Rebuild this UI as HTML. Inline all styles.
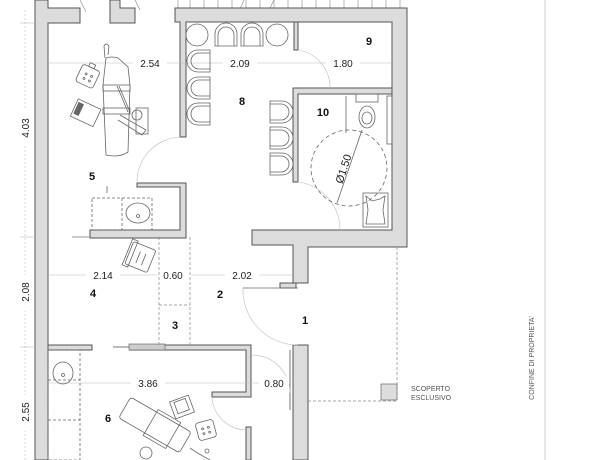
<!DOCTYPE html>
<html><head><style>
html,body{margin:0;padding:0;background:#fff;}
svg{display:block;}
text{font-family:"Liberation Sans",sans-serif;}
.w{fill:#dcdcdc;stroke:#555;stroke-width:1;}
.t{fill:none;stroke:#666;stroke-width:0.8;}
.d{stroke:#bbb;stroke-width:0.6;fill:none;}
.ds{stroke:#888;stroke-width:0.7;fill:none;stroke-dasharray:3,2;}
.dim{font-size:10px;fill:#222;}
.lb{font-size:11px;font-weight:bold;fill:#111;}
</style></head><body>
<svg width="600" height="460" viewBox="0 0 600 460">
<!-- top stair ticks -->
<g stroke="#888" stroke-width="0.6">
<line x1="175" y1="8" x2="407" y2="8"/>
<line x1="178" y1="0" x2="178" y2="8"/>
<g id="ticks">
<line x1="190" y1="0" x2="190" y2="8"/><line x1="204" y1="0" x2="204" y2="8"/><line x1="218" y1="0" x2="218" y2="8"/><line x1="232" y1="0" x2="232" y2="8"/><line x1="246" y1="0" x2="246" y2="8"/><line x1="260" y1="0" x2="260" y2="8"/><line x1="274" y1="0" x2="274" y2="8"/><line x1="288" y1="0" x2="288" y2="8"/><line x1="302" y1="0" x2="302" y2="8"/><line x1="316" y1="0" x2="316" y2="8"/><line x1="330" y1="0" x2="330" y2="8"/><line x1="344" y1="0" x2="344" y2="8"/><line x1="358" y1="0" x2="358" y2="8"/><line x1="372" y1="0" x2="372" y2="8"/><line x1="386" y1="0" x2="386" y2="8"/><line x1="400" y1="0" x2="400" y2="8"/>
</g>
<line x1="236" y1="18" x2="244" y2="0"/><line x1="270" y1="8" x2="274" y2="0"/>
<line x1="80" y1="0" x2="86" y2="12"/><line x1="135" y1="0" x2="140" y2="10"/>
</g>
<!-- walls -->
<path class="w" d="M35 0 H48 V8 H80 V23 H48 V460 H35 Z"/>
<path class="w" d="M110 0 H120 V8 H135 V23 H110 Z"/>
<path class="w" d="M175 8 H407 V247 H308 V283 H293 V245 H252 V230 H392 V22 H186 V137 H180 V22 H175 Z"/>
<path class="w" d="M294 22 H298 V50 H294 Z"/>
<path class="w" d="M294 88 H392 V94 H298 V182 H293 V88 Z"/>
<path class="w" d="M137 183 H186 V238 H90 V230 H180 V187 H137 Z"/>
<path class="w" d="M48 345 H92 V350 H48 Z"/>
<path class="w" d="M130 345 H251 V397 H212 V392 H246 V350 H130 Z"/>
<path class="w" d="M246 427 H251 V460 H246 Z"/>
<path class="w" d="M293 345 H308 V460 H293 Z"/>
<rect class="w" x="280" y="283" width="16" height="5"/>
<line x1="113" y1="347" x2="130" y2="347" stroke="#777"/>
<rect x="129" y="344" width="36" height="6" fill="#ccc" stroke="#555" stroke-width="0.6"/>
<line x1="290" y1="350" x2="290" y2="410" stroke="#777" stroke-width="1"/>
<!-- doors -->
<path class="d" d="M137 183 A45 45 0 0 1 180 137"/>
<path class="d" d="M298 50 A38 38 0 0 1 330 88"/>
<path class="d" d="M298 182 A48 48 0 0 1 340 230"/>
<path class="t" d="M243 288 H298"/>
<path class="d" d="M243 288 A55 55 0 0 0 298 345"/>
<path class="d" d="M252 355 A38 38 0 0 1 290 393"/>
<path class="d" d="M212 397 A35 35 0 0 0 246 430"/>
<!-- dim lines -->
<g class="d">
<line x1="48" y1="63" x2="392" y2="63"/>
<line x1="48" y1="275" x2="293" y2="275"/>
<line x1="48" y1="383" x2="290" y2="383"/>
<line x1="25" y1="10" x2="25" y2="460" stroke-dasharray="2,2"/>
<line x1="20" y1="23" x2="35" y2="23"/><line x1="20" y1="237" x2="35" y2="237"/><line x1="20" y1="347" x2="35" y2="347"/>
</g>
<g fill="#fff">
<rect x="133" y="56" width="34" height="13"/><rect x="223" y="56" width="34" height="13"/><rect x="326" y="56" width="34" height="13"/>
<rect x="86" y="268" width="34" height="13"/><rect x="157" y="268" width="34" height="13"/><rect x="225" y="268" width="34" height="13"/>
<rect x="131" y="376" width="34" height="13"/><rect x="259" y="376" width="30" height="13"/>
<rect x="18" y="110" width="14" height="36"/><rect x="18" y="275" width="14" height="36"/><rect x="18" y="395" width="14" height="36"/>
</g>
<g class="dim" text-anchor="middle">
<text x="150" y="67">2.54</text><text x="240" y="67">2.09</text><text x="343" y="67">1.80</text>
<text x="103" y="279">2.14</text><text x="173" y="279">0.60</text><text x="242" y="279">2.02</text>
<text x="148" y="387">3.86</text><text x="274" y="387">0.80</text>
<text transform="translate(29,128) rotate(-90)">4.03</text>
<text transform="translate(29,292) rotate(-90)">2.08</text>
<text transform="translate(29,412) rotate(-90)">2.55</text>
</g>
<!-- room 3 dashed -->
<g class="ds"><line x1="159" y1="237" x2="159" y2="345"/><line x1="190" y1="237" x2="190" y2="345"/><line x1="159" y1="305" x2="190" y2="305"/></g>
<!-- labels -->
<g class="lb" text-anchor="middle">
<text x="92" y="180">5</text><text x="242" y="105">8</text><text x="369" y="45">9</text><text x="323" y="116">10</text>
<text x="93" y="297">4</text><text x="220" y="298">2</text><text x="175" y="329">3</text><text x="305" y="324">1</text><text x="108" y="422">6</text>
</g>
<!-- room 8 chairs -->
<g class="t">
<circle cx="197" cy="35" r="11"/><circle cx="277" cy="35" r="11"/>
<path d="M215 46 V34 A10 10 0 0 1 237 34 V46 Z M218 46 V35 A7 7 0 0 1 234 35 V46"/>
<path d="M241 46 V34 A10 10 0 0 1 263 34 V46 Z M244 46 V35 A7 7 0 0 1 260 35 V46"/>
<path d="M210 50 H198 A10 10 0 0 0 198 72 H210 Z M210 53 H199 A7 7 0 0 0 199 69 H210"/>
<path d="M210 77 H198 A10 10 0 0 0 198 99 H210 Z M210 80 H199 A7 7 0 0 0 199 96 H210"/>
<path d="M210 103 H198 A10 10 0 0 0 198 125 H210 Z M210 106 H199 A7 7 0 0 0 199 122 H210"/>
<path d="M270 101 H282 A10 10 0 0 1 282 123 H270 Z M270 104 H281 A7 7 0 0 1 281 120 H270"/>
<path d="M270 127 H282 A10 10 0 0 1 282 149 H270 Z M270 130 H281 A7 7 0 0 1 281 146 H270"/>
<path d="M270 153 H282 A10 10 0 0 1 282 175 H270 Z M270 156 H281 A7 7 0 0 1 281 172 H270"/>
</g>
<!-- room 10 fixtures -->
<g class="t">
<rect x="356" y="94" width="22" height="8"/>
<ellipse cx="367" cy="117" rx="8" ry="11"/><ellipse cx="367" cy="118" rx="5" ry="6"/>
<rect x="387" y="96" width="5" height="48"/>
<line x1="346" y1="96" x2="346" y2="133"/>
<circle cx="349" cy="168" r="38" stroke-dasharray="4,3"/>
<line x1="362" y1="130" x2="337" y2="203"/>
<rect x="363" y="193" width="25" height="34"/>
<path d="M366 196 L372 201 L380 199 L385 196 L383 210 L385 224 L366 224 L368 210 Z"/>
</g>
<text transform="translate(347,170) rotate(-72)" text-anchor="middle" class="dim" style="font-size:11px">Ø1.50</text>
<!-- room 5 furniture -->
<g class="t">
<path d="M106 58 Q112 56 118 58 L128 67 L130 85 L128 152 Q120 158 106 155 L103 85 Z"/>
<rect x="103" y="85" width="27" height="6"/>
<rect x="103" y="108" width="27" height="6"/>
<path d="M117 86 L128 112 M119 86 L130 112"/>
<path d="M120 115 L146 130 L142 135 L118 120"/>
<rect x="136" y="108" width="12" height="26"/>
<circle cx="137" cy="115" r="5"/>
<path d="M105 58 L104 46 Q106 42 109 46 L108 55"/>
<g transform="rotate(25 88 77)"><rect x="78" y="67" width="19" height="19" rx="3"/><circle cx="85" cy="75" r="1"/><circle cx="91" cy="75" r="1"/><circle cx="85" cy="80" r="1"/><circle cx="91" cy="80" r="1"/><rect x="84" y="63" width="6" height="4"/></g>
<g transform="rotate(25 85 113)"><rect x="73" y="103" width="25" height="19"/><rect x="75" y="106" width="5" height="12" fill="#666"/></g>
<rect x="92" y="198" width="60" height="32" stroke-dasharray="3,2"/>
<line x1="122" y1="198" x2="122" y2="230" stroke-dasharray="3,2"/>
<ellipse cx="138" cy="213" rx="12" ry="10"/>
<circle cx="138" cy="216" r="1.5"/>
<line x1="107" y1="186" x2="107" y2="193"/>
</g>
<!-- room 4 chair -->
<g class="t" transform="rotate(22 140 258)"><rect x="128" y="245" width="24" height="24" rx="2"/><rect x="126" y="243" width="6" height="28"/><line x1="138" y1="252" x2="138" y2="264"/><line x1="144" y1="252" x2="144" y2="264"/></g>
<line x1="72" y1="237" x2="90" y2="237" stroke="#999"/>
<!-- room 6 -->
<g class="t">
<rect x="48" y="350" width="32" height="110" stroke-dasharray="3,2"/>
<line x1="48" y1="380" x2="80" y2="380" stroke-dasharray="3,2"/>
<line x1="48" y1="420" x2="80" y2="420" stroke-dasharray="3,2"/>
<ellipse cx="63" cy="373" rx="10" ry="11"/><circle cx="63" cy="375" r="1.5"/>
<g transform="rotate(30 155 425)"><rect x="120" y="413" width="70" height="24" rx="3"/><rect x="150" y="410" width="26" height="30"/></g>
<circle cx="146" cy="453" r="6"/>
<g transform="rotate(-20 182 407)"><rect x="172" y="398" width="20" height="18"/><rect x="176" y="400" width="12" height="12"/></g>
<g transform="rotate(-15 206 430)"><rect x="197" y="421" width="18" height="18" rx="3"/><circle cx="203" cy="428" r="1"/><circle cx="209" cy="428" r="1"/><circle cx="203" cy="433" r="1"/><circle cx="209" cy="433" r="1"/></g>
<path d="M190 448 Q200 455 210 460"/><circle cx="207" cy="451" r="2"/>
</g>
<!-- exterior -->
<path class="ds" d="M397 247 V401 H308" stroke="#999"/>
<rect x="381" y="384" width="16" height="16" fill="#ddd" stroke="#666" stroke-width="0.7"/>
<text x="411" y="391" style="font-size:7px;fill:#555">SCOPERTO</text>
<text x="411" y="400" style="font-size:7px;fill:#555">ESCLUSIVO</text>
<line x1="545" y1="0" x2="545" y2="460" stroke="#ccc" stroke-width="1"/>
<text transform="translate(534,358) rotate(-90)" text-anchor="middle" style="font-size:7px;fill:#555">CONFINE DI PROPRIETA'</text>
</svg>
</body></html>
